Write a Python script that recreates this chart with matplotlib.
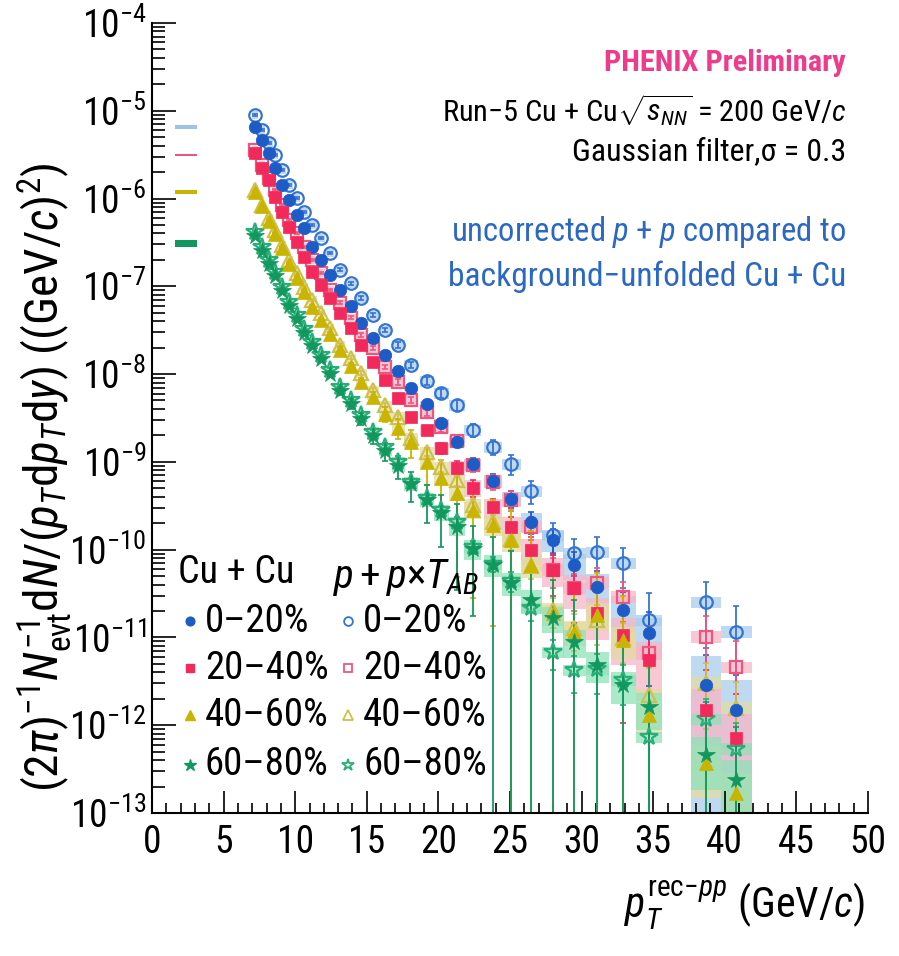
import numpy as np
import matplotlib; matplotlib.use("Agg")
import matplotlib.pyplot as plt
from matplotlib import font_manager
from matplotlib.lines import Line2D
from matplotlib.ticker import LogLocator, NullFormatter, MultipleLocator

names = {f.name for f in font_manager.fontManager.ttflist}
FONT, K = 'Liberation Sans', 1.0
for cand, k in [('Roboto Condensed', 1.12), ('Liberation Sans Narrow', 1.2), ('Open Sans Condensed', 1.12)]:
    if cand in names:
        FONT, K = cand, k
        break
plt.rcParams['font.family'] = [FONT, 'DejaVu Sans']
plt.rcParams['mathtext.fontset'] = 'custom'
plt.rcParams['mathtext.rm'] = FONT
plt.rcParams['mathtext.it'] = FONT + ':italic'
plt.rcParams['mathtext.bf'] = FONT + ':bold'
plt.rcParams['mathtext.sf'] = FONT

# ---- data ----
pt = np.array([7.2, 7.7, 8.2, 8.6, 9.1, 9.6, 10.1, 10.6, 11.2, 11.8, 12.4, 13.1, 13.9, 14.6, 15.45,
               16.3, 17.2, 18.1, 19.2, 20.2, 21.3, 22.4, 23.8, 25.1, 26.5, 28.0, 29.5, 31.1, 32.9,
               34.7, 38.7, 40.8])
centralities = ["0\u201320%", "20\u201340%", "40\u201360%", "60\u201380%"]

cucu_0_20 = [6.6e-6, 4.65e-6, 3.28e-6, 2.21e-6, 1.43e-6, 9.6e-7, 6.5e-7, 4.59e-7, 2.83e-7, 2.0e-7,
             1.35e-7, 9.1e-8, 5.9e-8, 3.8e-8, 2.57e-8, 1.66e-8, 1.07e-8, 6.9e-9, 4.58e-9, 2.78e-9,
             1.70e-9, 9.5e-10, 6.1e-10, 3.8e-10, 2.09e-10, 1.29e-10, 6.7e-11, 3.8e-11, 2.06e-11,
             1.12e-11, 2.9e-12, 1.5e-12]
cucu_20_40 = [3.28e-6, 2.21e-6, 1.63e-6, 1.05e-6, 7.1e-7, 4.79e-7, 3.23e-7, 2.18e-7, 1.47e-7, 1.04e-7,
              7.4e-8, 4.98e-8, 3.36e-8, 2.15e-8, 1.38e-8, 8.6e-9, 5.4e-9, 3.28e-9, 2.31e-9, 1.43e-9,
              8.6e-10, 5.1e-10, 3.03e-10, 1.79e-10, 9.95e-11, 5.9e-11, 3.64e-11, 1.89e-11, 1.07e-11,
              5.6e-12, 1.5e-12, 7.1e-13]
cucu_40_60 = [1.19e-6, 8.24e-7, 5.56e-7, 3.95e-7, 2.74e-7, 1.80e-7, 1.25e-7, 8.63e-8, 5.82e-8, 4.14e-8,
              2.87e-8, 1.88e-8, 1.24e-8, 8.15e-9, 5.50e-9, 3.52e-9, 2.44e-9, 1.69e-9, 1.0e-9, 6.58e-10,
              4.44e-10, 2.84e-10, 1.91e-10, 1.29e-10, 6.71e-11, 1.91e-11, 1.16e-11, 1.81e-11, 9.38e-12,
              1.31e-12, 3.72e-13, 1.70e-13]
cucu_60_80 = [3.75e-7, 2.53e-7, 1.80e-7, 1.31e-7, 8.85e-8, 5.98e-8, 4.26e-8, 2.94e-8, 2.09e-8, 1.49e-8,
              1.0e-8, 6.43e-9, 4.57e-9, 3.09e-9, 1.98e-9, 1.33e-9, 8.99e-10, 5.61e-10, 3.69e-10, 2.62e-10,
              1.82e-10, 1.02e-10, 6.71e-11, 4.19e-11, 2.68e-11, 1.67e-11, 8.91e-12, 4.88e-12, 2.88e-12,
              1.62e-12, 4.60e-13, 2.39e-13]

pp_0_20 = [8.95e-6, 6.04e-6, 4.30e-6, 3.14e-6, 2.12e-6, 1.43e-6, 1.02e-6, 7.03e-7, 5.0e-7, 3.56e-7,
           2.40e-7, 1.54e-7, 1.09e-7, 7.38e-8, 4.72e-8, 3.18e-8, 2.15e-8, 1.27e-8, 8.36e-9, 6.11e-9,
           4.46e-9, 2.31e-9, 1.48e-9, 9.48e-10, 4.67e-10, 1.47e-10, 9.18e-11, 9.44e-11, 7.06e-11,
           1.58e-11, 2.54e-11, 1.16e-11]
pp_20_40 = [3.58e-6, 2.41e-6, 1.72e-6, 1.25e-6, 8.45e-7, 5.70e-7, 4.06e-7, 2.81e-7, 2.0e-7, 1.42e-7,
            9.10e-8, 6.47e-8, 4.37e-8, 2.79e-8, 1.99e-8, 1.21e-8, 8.15e-9, 5.08e-9, 3.71e-9, 2.50e-9,
            1.73e-9, 9.25e-10, 5.92e-10, 3.69e-10, 1.82e-10, 5.89e-11, 3.67e-11, 4.19e-11, 2.90e-11,
            6.67e-12, 1.02e-11, 4.62e-12]
pp_40_60 = [1.25e-6, 8.45e-7, 6.01e-7, 4.39e-7, 2.96e-7, 2.0e-7, 1.42e-7, 9.84e-8, 7.0e-8, 4.98e-8,
            3.36e-8, 2.15e-8, 1.53e-8, 1.03e-8, 6.61e-9, 4.46e-9, 3.25e-9, 1.87e-9, 1.30e-9, 8.77e-10,
            6.24e-10, 3.24e-10, 2.07e-10, 1.33e-10, 6.53e-11, 2.06e-11, 1.29e-11, 1.58e-11, 9.89e-12,
            2.22e-12, 3.04e-12, 1.58e-12]
pp_60_80 = [4.16e-7, 2.81e-7, 2.0e-7, 1.46e-7, 9.86e-8, 6.65e-8, 4.74e-8, 3.27e-8, 2.33e-8, 1.66e-8,
            1.12e-8, 7.16e-9, 5.07e-9, 3.43e-9, 2.20e-9, 1.48e-9, 1.0e-9, 5.91e-10, 3.89e-10, 2.84e-10,
            2.07e-10, 1.07e-10, 6.88e-11, 4.41e-11, 2.17e-11, 6.84e-12, 4.27e-12, 4.39e-12, 3.28e-12,
            7.35e-13, 1.18e-12, 5.40e-13]

# relative statistical / systematic uncertainties
cucu_0_20_stat = [0.01, 0.01, 0.01, 0.01, 0.01, 0.01, 0.015, 0.015, 0.02, 0.02, 0.02, 0.025, 0.03, 0.035,
                  0.04, 0.05, 0.06, 0.07, 0.08, 0.10, 0.12, 0.15, 0.18, 0.22, 0.27, 0.32, 0.40, 0.50,
                  0.60, 0.75, 1.2, 1.5]
cucu_20_40_stat = [0.01, 0.01, 0.01, 0.01, 0.015, 0.015, 0.02, 0.02, 0.025, 0.025, 0.03, 0.035, 0.04,
                   0.05, 0.06, 0.07, 0.08, 0.10, 0.12, 0.15, 0.18, 0.22, 0.26, 0.32, 0.40, 0.50, 0.60,
                   0.75, 0.90, 1.1, 1.8, 2.2]
cucu_40_60_stat = [0.015, 0.015, 0.02, 0.02, 0.025, 0.03, 0.035, 0.04, 0.045, 0.05, 0.06, 0.07, 0.08,
                   0.10, 0.14, 0.20, 0.25, 0.35, 0.45, 0.60, 0.89, 0.90, 0.93, 1.2, 1.4, 1.6, 1.8, 2.0,
                   2.2, 2.5, 3.0, 3.0]
cucu_60_80_stat = [0.02, 0.025, 0.03, 0.03, 0.035, 0.04, 0.045, 0.05, 0.06, 0.07, 0.08, 0.10, 0.13,
                   0.16, 0.20, 0.24, 0.29, 0.37, 0.46, 0.59, 0.81, 0.83, 1.1, 1.3, 1.5, 1.7, 2.0, 2.2,
                   2.5, 2.8, 3.0, 3.0]
pp_stat = [0.02, 0.02, 0.02, 0.02, 0.02, 0.025, 0.025, 0.03, 0.03, 0.03, 0.035, 0.04, 0.04, 0.045,
           0.05, 0.06, 0.07, 0.08, 0.10, 0.12, 0.14, 0.17, 0.20, 0.25, 0.30, 0.38, 0.45, 0.48, 0.48,
           1.04, 0.70, 0.95]

cucu_0_20_syst = [0.03, 0.03, 0.03, 0.03, 0.03, 0.03, 0.03, 0.03, 0.03, 0.03, 0.035, 0.035, 0.04, 0.04,
                  0.045, 0.05, 0.06, 0.07, 0.08, 0.10, 0.12, 0.14, 0.17, 0.20, 0.24, 0.28, 0.32, 0.38,
                  0.45, 0.50, 1.10, 1.20]
cucu_20_40_syst = [0.03, 0.03, 0.03, 0.03, 0.03, 0.03, 0.03, 0.035, 0.035, 0.04, 0.04, 0.05, 0.05, 0.06,
                   0.07, 0.08, 0.10, 0.12, 0.14, 0.16, 0.19, 0.22, 0.26, 0.30, 0.32, 0.36, 0.42, 0.50,
                   0.55, 0.60, 0.80, 0.90]
cucu_40_60_syst = [0.04, 0.04, 0.04, 0.04, 0.04, 0.04, 0.045, 0.045, 0.05, 0.05, 0.06, 0.06, 0.07, 0.07,
                   0.08, 0.10, 0.12, 0.14, 0.16, 0.18, 0.20, 0.22, 0.25, 0.28, 0.30, 0.30, 0.32, 0.35,
                   0.40, 0.40, 0.60, 0.70]
cucu_60_80_syst = [0.05, 0.05, 0.05, 0.05, 0.05, 0.05, 0.05, 0.06, 0.06, 0.06, 0.07, 0.07, 0.08, 0.09,
                   0.10, 0.12, 0.14, 0.16, 0.18, 0.20, 0.22, 0.25, 0.28, 0.30, 0.30, 0.32, 0.35, 0.38,
                   0.40, 0.45, 0.60, 0.70]
pp_syst = [0.10, 0.10, 0.10, 0.10, 0.10, 0.10, 0.10, 0.10, 0.11, 0.11, 0.11, 0.11, 0.12, 0.12, 0.12,
           0.12, 0.13, 0.13, 0.14, 0.15, 0.15, 0.15, 0.15, 0.15, 0.15, 0.15, 0.15, 0.15, 0.15, 0.15,
           0.15, 0.15]

# T_AB normalisation uncertainty bars at the left edge
norm_level = [6.5e-6, 3.1e-6, 1.19e-6, 3.1e-7]
norm_rel = [0.055, 0.028, 0.055, 0.095]

cucu = [cucu_0_20, cucu_20_40, cucu_40_60, cucu_60_80]
cucu_stat = [cucu_0_20_stat, cucu_20_40_stat, cucu_40_60_stat, cucu_60_80_stat]
cucu_syst = [cucu_0_20_syst, cucu_20_40_syst, cucu_40_60_syst, cucu_60_80_syst]
pp = [pp_0_20, pp_20_40, pp_40_60, pp_60_80]

# ---- style ----
cols = ['#1d5bc7', '#f22a5c', '#c9b400', '#12985f']
ocols = ['#3474d4', '#f0557e', '#cfc04e', '#2aae78']
bcols = ['#a9cdec', '#f8b6c7', '#e2dca0', '#8fe2ba']
ncols = ['#9fc3e7', '#f0557e', '#c9b400', '#12985f']
mk = ['o', 's', '^', '*']
ms = [9.0, 8.5, 10.0, 13.0]
FLOOR = 1e-14

fig = plt.figure(figsize=(8.99, 9.56), dpi=100)
ax = fig.add_axes([0.1691, 0.1496, 0.7964, 0.8264])
ax.set_yscale('log')


def draw_boxes(v, rel, color):
    v = np.asarray(v); rel = np.asarray(rel)
    lo = np.maximum(v * (1 - rel), FLOOR); hi = v * (1 + rel)
    ax.bar(pt, hi - lo, bottom=lo, width=0.053 * pt, color=color, alpha=0.75, lw=0, zorder=1)


def draw_err(v, rel, color, z):
    v = np.asarray(v); rel = np.asarray(rel)
    lo = v - np.maximum(v * (1 - rel), FLOOR)
    ax.errorbar(pt, v, yerr=[lo, v * rel], fmt='none', ecolor=color, elinewidth=1.3,
                capsize=2.0, capthick=1.2, zorder=z)


for i in range(4):
    draw_boxes(pp[i], pp_syst, bcols[i])
    draw_boxes(cucu[i], cucu_syst[i], bcols[i])
for i in range(4):
    draw_err(pp[i], pp_stat, ocols[i], 2)
    draw_err(cucu[i], cucu_stat[i], cols[i], 2)
for i in range(4):
    ax.plot(pt, pp[i], ls='none', marker=mk[i], ms=ms[i], mfc='none', mec=ocols[i], mew=1.6, zorder=4)
for i in range(4):
    ax.plot(pt, cucu[i], ls='none', marker=mk[i], ms=ms[i], mfc=cols[i], mec=cols[i], mew=0.5, zorder=5)

# normalisation bars
nl = np.asarray(norm_level); nr = np.asarray(norm_rel)
ax.bar([2.38] * 4, nl * 2 * nr, bottom=nl * (1 - nr), width=1.55, color=ncols, lw=0, zorder=3)

ax.set_xlim(0, 50)
ax.set_ylim(1e-13, 1e-4)
for s in ['top', 'right']:
    ax.spines[s].set_visible(False)
for s in ['left', 'bottom']:
    ax.spines[s].set_linewidth(1.5)
ax.xaxis.set_major_locator(MultipleLocator(5))
ax.xaxis.set_minor_locator(MultipleLocator(1))
ax.yaxis.set_major_locator(LogLocator(base=10, numticks=20))
ax.yaxis.set_minor_locator(LogLocator(base=10, subs=np.arange(2, 10), numticks=20))
ax.yaxis.set_minor_formatter(NullFormatter())
ax.tick_params(which='both', direction='in', top=False, right=False, labelsize=27, width=1.2)
ax.tick_params(axis='y', which='major', length=17, pad=4)
ax.tick_params(axis='y', which='minor', length=9)
ax.tick_params(axis='x', which='major', length=16, pad=8)
ax.tick_params(axis='x', which='minor', length=7)

# axis titles
fig.text(0.05, 0.172,
         r"$(2\pi)^{-1}N_{\mathrm{evt}}^{-1}\mathrm{d}N/(p_{T}\mathrm{d}p_{T}\mathrm{d}y)$ "
         r"$((\mathrm{GeV}/c)^{2})$", rotation=90, ha='center', va='bottom', fontsize=34)
fig.text(0.962, 0.053, r"$p_{T}^{\mathrm{rec}{-}pp}$ (GeV/$c$)", ha='right', va='center',
         fontsize=27 * K)

# header text
fig.text(0.941, 0.934, "PHENIX Preliminary", ha='right', va='center', fontsize=19.5 * K,
         fontweight='bold', color='#ee3b8c')
fig.text(0.941, 0.885, "Run\u22125 Cu + Cu" + r"$\sqrt{s_{NN}}$" + " = 200 GeV/" + r"$c$",
         ha='right', va='center', fontsize=19.5 * K)
fig.text(0.941, 0.841, "Gaussian filter,\u03c3 = 0.3", ha='right', va='center', fontsize=20.5 * K)
fig.text(0.941, 0.757, r"uncorrected $p$ + $p$ compared to", ha='right', va='center',
         fontsize=21 * K, color='#2b68c4')
fig.text(0.941, 0.710, "background\u2212unfolded Cu + Cu", ha='right', va='center',
         fontsize=21.5 * K, color='#2b68c4')

# legend
fig.text(0.198, 0.401, "Cu + Cu", ha='left', va='center', fontsize=24.5 * K)
fig.text(0.370, 0.396, r"$p+p{\times}T_{AB}$", ha='left', va='center', fontsize=26.5 * K)
rows = [0.350, 0.301, 0.252, 0.200]
for i, lab in enumerate(centralities):
    fig.add_artist(Line2D([0.211], [rows[i]], marker=mk[i], ms=ms[i] * 0.7, color=cols[i],
                          ls='none', transform=fig.transFigure))
    fig.text(0.228, rows[i], lab, ha='left', va='center', fontsize=25 * K)
    fig.add_artist(Line2D([0.387], [rows[i]], marker=mk[i], ms=ms[i] * 0.7, mfc='none',
                          mec=ocols[i], mew=1.3, ls='none', transform=fig.transFigure))
    fig.text(0.404, rows[i], lab, ha='left', va='center', fontsize=25 * K)

fig.savefig("out.png", dpi=100)
